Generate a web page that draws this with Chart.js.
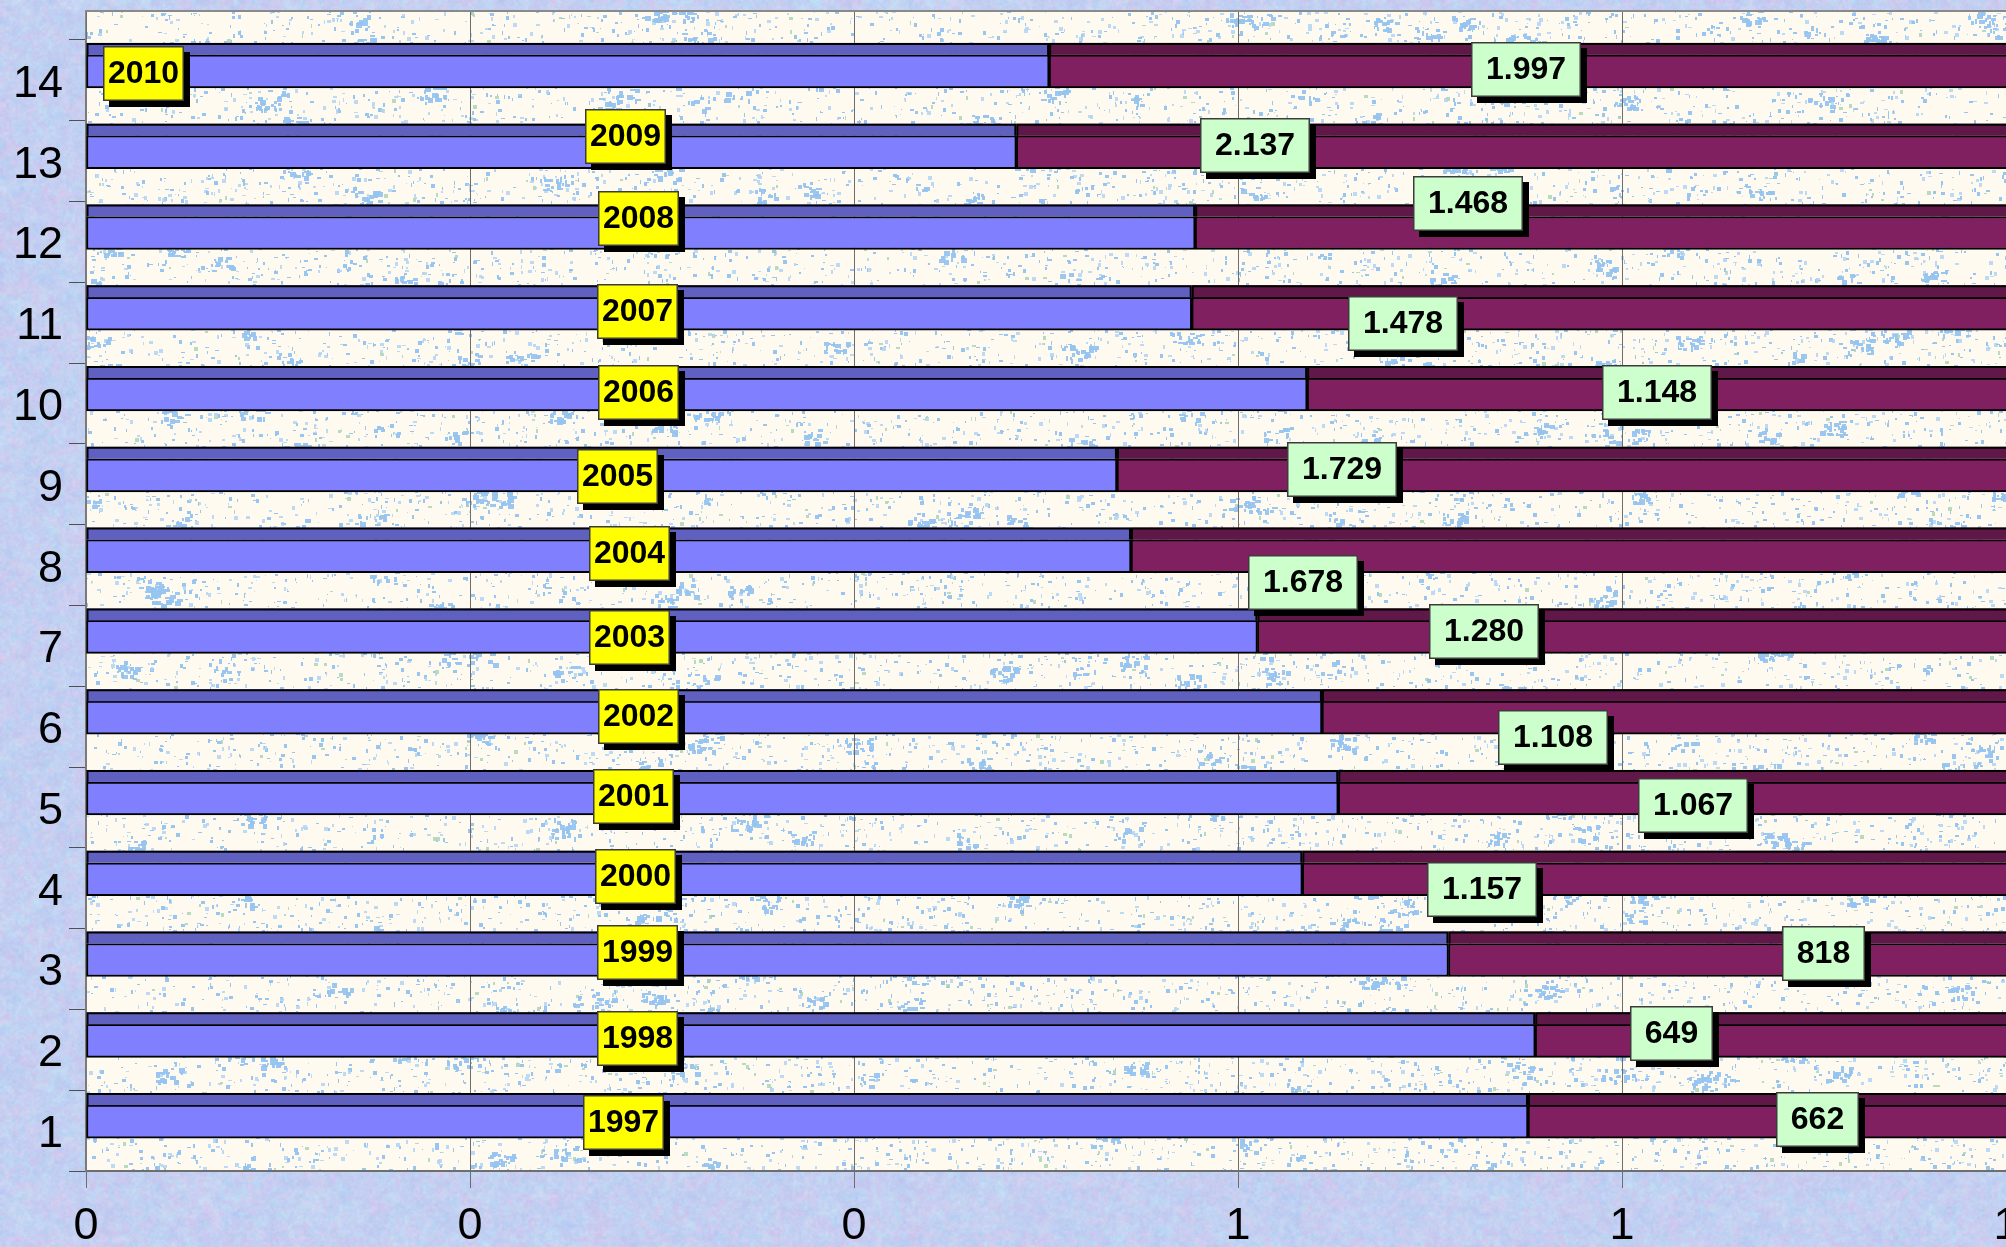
<!DOCTYPE html>
<html>
<head>
<meta charset="utf-8">
<title>Jahre und Werte 1997–2010</title>
<script src="https://cdn.jsdelivr.net/npm/chart.js@4.4.1/dist/chart.umd.min.js"></script>
<style>
  html, body { margin: 0; padding: 0; background: #c6cfee; }
  #wrap { width: 2006px; height: 1247px; position: relative; }
  canvas { display: block; }
</style>
</head>
<body>
<div id="wrap"><canvas id="chart" width="2006" height="1247"></canvas></div>
<script>
// ---- data -------------------------------------------------------------
const categories = ['1', '2', '3', '4', '5', '6', '7', '8', '9', '10', '11', '12', '13', '14'];
const years   = [1997, 1998, 1999, 2000, 2001, 2002, 2003, 2004, 2005, 2006, 2007, 2008, 2009, 2010];
const amounts = [662, 649, 818, 1157, 1067, 1108, 1280, 1678, 1729, 1148, 1478, 1468, 2137, 1997];
const xTickLabels = ['0', '0', '0', '1', '1', '1'];

// ---- label placement (x in axis units, shift in category heights) ------
const yearLabelAt    = [0.280, 0.287, 0.287, 0.286, 0.285, 0.288, 0.283, 0.283, 0.277, 0.288, 0.287, 0.288, 0.281, 0.030];
const yearLabelShift = [-0.10, -0.14, -0.20, -0.14, -0.13, -0.13, -0.10, -0.14, -0.10, -0.14, -0.14, -0.29, -0.31, -0.08];
const valueLabelAt    = [0.902, 0.826, 0.905, 0.727, 0.837, 0.764, 0.728, 0.634, 0.654, 0.818, 0.686, 0.720, 0.609, 0.750];
const valueLabelShift = [-0.14, -0.20, -0.19, 0.01, -0.03, 0.13, -0.18, 0.21, -0.18, -0.14, 0.01, -0.48, -0.19, -0.13];

// 100 % stacked shares built from the two series
const yearShare   = years.map((y, i) => y / (y + amounts[i]));
const amountShare = amounts.map((v, i) => v / (years[i] + v));

const FONT = '"Liberation Sans", Arial, Helvetica, sans-serif';
const WALL_TOP = 10;      // top edge of the back wall
const DEPTH = 12;         // height of the bar top faces
const LIFT = 9;           // bars sit slightly above the category centre

// deterministic grain for the paper textures
function grain(seed) {
  let s = seed >>> 0;
  return function () {
    s = (s + 0x6D2B79F5) >>> 0;
    let t = s;
    t = Math.imul(t ^ (t >>> 15), t | 1);
    t ^= t + Math.imul(t ^ (t >>> 7), t | 61);
    return ((t ^ (t >>> 14)) >>> 0) / 4294967296;
  };
}

// mottled pastel backdrop
function makeBackdrop(w, h) {
  const rnd = grain(20100);
  const out = document.createElement('canvas');
  out.width = w; out.height = h;
  const o = out.getContext('2d');
  const palette = [[180, 204, 246], [214, 194, 238], [190, 228, 246], [222, 198, 234], [174, 208, 244], [200, 210, 244], [186, 198, 238], [204, 222, 242]];
  const layers = [[14, 1], [6, 0.6], [3, 0.4], [1.5, 0.25]];
  o.fillStyle = 'rgb(198,208,240)';
  o.fillRect(0, 0, w, h);
  layers.forEach(([cell, alpha]) => {
    const lw = Math.ceil(w / cell) + 1, lh = Math.ceil(h / cell) + 1;
    const small = document.createElement('canvas');
    small.width = lw; small.height = lh;
    const s = small.getContext('2d');
    const img = s.createImageData(lw, lh);
    for (let i = 0; i < lw * lh; i++) {
      const c = palette[Math.floor(rnd() * palette.length)];
      const j = (rnd() - 0.5) * 16;
      img.data[i * 4] = c[0] + j;
      img.data[i * 4 + 1] = c[1] + j;
      img.data[i * 4 + 2] = c[2] + j * 0.5;
      img.data[i * 4 + 3] = 255;
    }
    s.putImageData(img, 0, 0);
    o.globalAlpha = alpha;
    o.imageSmoothingEnabled = true;
    o.drawImage(small, 0, 0, lw * cell, lh * cell);
  });
  o.globalAlpha = 1;
  return out;
}

// cream wall with small blue flecks
function makeWall(w, h) {
  const rnd = grain(1997);
  const out = document.createElement('canvas');
  out.width = w; out.height = h;
  const o = out.getContext('2d');
  o.fillStyle = '#fffaf0';
  o.fillRect(0, 0, w, h);
  const n = Math.round(w * h / 80);
  for (let i = 0; i < n; i++) {
    const x = Math.floor(rnd() * w), y = Math.floor(rnd() * h);
    const r = rnd();
    o.fillStyle = r < 0.06 ? 'rgba(176,214,184,0.9)' : (r < 0.6 ? 'rgba(148,194,240,0.95)' : 'rgba(176,210,246,0.85)');
    const bw = 1 + Math.floor(rnd() * 4), bh = 1 + Math.floor(rnd() * 4);
    o.fillRect(x, y, bw, bh);
  }
  // larger splashes
  for (let i = 0; i < Math.round(w * h / 5000); i++) {
    const x = rnd() * w, y = rnd() * h;
    o.fillStyle = 'rgba(150,196,240,0.95)';
    const k = 6 + Math.floor(rnd() * 14);
    for (let m = 0; m < k; m++) {
      o.fillRect(Math.floor(x + (rnd() - 0.5) * 26), Math.floor(y + (rnd() - 0.5) * 14), 2 + Math.floor(rnd() * 5), 2 + Math.floor(rnd() * 4));
    }
  }
  return out;
}

// background, back wall and grid extension above the category band
const wallPlugin = {
  id: 'wall',
  beforeDraw(chart) {
    const { ctx, chartArea: a, scales: { x } } = chart;
    ctx.save();
    ctx.drawImage(makeBackdrop(chart.width, chart.height), 0, 0);
    const ww = chart.width - a.left, wh = a.bottom - WALL_TOP;
    ctx.drawImage(makeWall(ww, wh), a.left, WALL_TOP);
    // wall outline
    ctx.strokeStyle = '#8a8a8a';
    ctx.lineWidth = 2;
    ctx.beginPath();
    ctx.moveTo(a.left, a.bottom);
    ctx.lineTo(a.left, WALL_TOP + 1);
    ctx.lineTo(chart.width, WALL_TOP + 1);
    ctx.stroke();
    // vertical grid on the full wall height
    ctx.strokeStyle = '#6e6e6e';
    ctx.lineWidth = 1;
    x.ticks.forEach(t => {
      const px = Math.round(x.getPixelForValue(t.value)) + 0.5;
      ctx.beginPath();
      ctx.moveTo(px, WALL_TOP + 2);
      ctx.lineTo(px, a.bottom);
      ctx.stroke();
    });
    ctx.restore();
  }
};

// bar top faces (3-D look) and the lifted bar band
const depthPlugin = {
  id: 'depth',
  beforeDatasetsDraw(chart) {
    chart.ctx.save();
    chart.ctx.translate(0, -LIFT);
  },
  afterDatasetsDraw(chart) {
    const ctx = chart.ctx;
    const edge = chart.chartArea.right;
    chart.data.datasets.forEach((ds, di) => {
      const meta = chart.getDatasetMeta(di);
      meta.data.forEach(bar => {
        const p = bar.getProps(['x', 'y', 'base', 'height'], true);
        const left = Math.min(p.x, p.base), right = Math.max(p.x, p.base);
        const top = p.y - p.height / 2;
        ctx.fillStyle = ds.topColor;
        ctx.fillRect(left, top - DEPTH, right - left, DEPTH);
        ctx.strokeStyle = '#000';
        ctx.lineWidth = 2;
        ctx.beginPath();
        ctx.moveTo(right, top - DEPTH + 1);
        ctx.lineTo(left + 1, top - DEPTH + 1);
        ctx.lineTo(left + 1, top);
        if (right < edge - 1) {
          ctx.moveTo(right - 1, top - DEPTH + 1);
          ctx.lineTo(right - 1, top);
        }
        ctx.stroke();
      });
    });
    ctx.restore();
  }
};

function drawTag(ctx, text, cx, cy, fill, padX) {
  ctx.font = 'bold 32px ' + FONT;
  const w = Math.round(ctx.measureText(text).width + 2 * padX);
  const h = 55;
  const x = Math.round(cx - w / 2), y = Math.round(cy - h / 2);
  ctx.fillStyle = '#000';
  ctx.fillRect(x + 6, y + 6, w, h);
  ctx.fillStyle = fill;
  ctx.fillRect(x, y, w, h);
  ctx.strokeStyle = '#3c3c3c';
  ctx.lineWidth = 1.5;
  ctx.strokeRect(x + 0.75, y + 0.75, w - 1.5, h - 1.5);
  ctx.fillStyle = '#000';
  ctx.textAlign = 'center';
  ctx.textBaseline = 'middle';
  ctx.fillText(text, x + w / 2, y + h / 2 + 1);
}

const fmtAmount = new Intl.NumberFormat('de-DE');

// data labels: years in yellow tags, amounts in green tags
const tagPlugin = {
  id: 'tags',
  afterDatasetsDraw(chart) {
    const { ctx, scales: { x, y } } = chart;
    const step = y.height / categories.length;
    ctx.save();
    years.forEach((yr, i) => {
      drawTag(ctx, String(yr), x.getPixelForValue(yearLabelAt[i]), y.getPixelForValue(i) + yearLabelShift[i] * step, '#ffff00', 5);
    });
    amounts.forEach((v, i) => {
      drawTag(ctx, fmtAmount.format(v), x.getPixelForValue(valueLabelAt[i]), y.getPixelForValue(i) + valueLabelShift[i] * step, '#ccffcc', 15);
    });
    ctx.restore();
  }
};

new Chart(document.getElementById('chart'), {
  type: 'bar',
  data: {
    labels: categories,
    datasets: [
      {
        label: 'Jahr',
        data: yearShare,
        backgroundColor: '#8080ff',
        topColor: '#6060c0',
        borderColor: '#000000',
        borderWidth: 2,
        borderSkipped: false,
        barThickness: 33
      },
      {
        label: 'Wert',
        data: amountShare,
        backgroundColor: '#802060',
        topColor: '#601848',
        borderColor: '#000000',
        borderWidth: { top: 2, bottom: 2, left: 2, right: 0 },
        borderSkipped: false,
        barThickness: 33
      }
    ]
  },
  options: {
    indexAxis: 'y',
    responsive: false,
    animation: false,
    events: [],
    layout: { padding: { top: 40, left: 0, right: 0, bottom: 0 } },
    plugins: {
      legend: { display: false },
      tooltip: { enabled: false }
    },
    scales: {
      x: {
        stacked: true,
        min: 0,
        max: 1,
        ticks: {
          stepSize: 0.2,
          autoSkip: false,
          maxRotation: 0,
          padding: 12,
          color: '#000',
          font: { family: FONT, size: 45 },
          callback: (v, i) => xTickLabels[i]
        },
        grid: { color: '#6e6e6e', lineWidth: 1, tickLength: 17, drawOnChartArea: true },
        border: { color: '#6e6e6e', width: 2 },
        afterFit(s) { s.height = 76; s.paddingLeft = 0; s.paddingRight = 0; }
      },
      y: {
        stacked: true,
        reverse: true,
        ticks: {
          padding: 6,
          labelOffset: 4,
          color: '#000',
          font: { family: FONT, size: 45 }
        },
        grid: { drawOnChartArea: false, tickLength: 17, color: '#505050', lineWidth: 1, offset: true },
        border: { color: '#7a7a7a', width: 2 },
        afterFit(s) { s.width = 86; s.paddingTop = 0; s.paddingBottom = 0; }
      }
    }
  },
  plugins: [wallPlugin, depthPlugin, tagPlugin]
});
</script>
</body>
</html>
